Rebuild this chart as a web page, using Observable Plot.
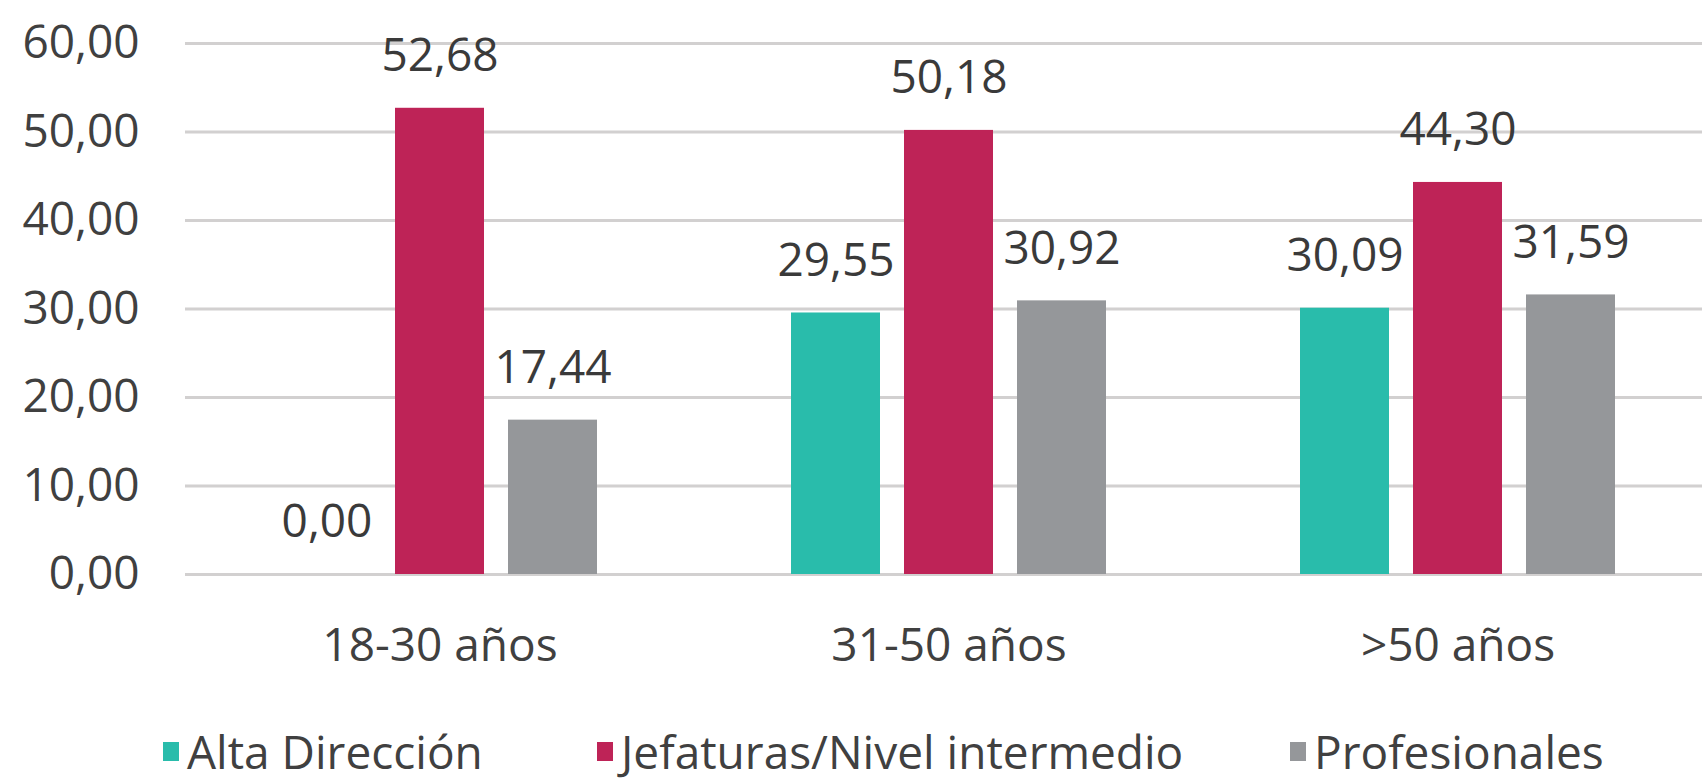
<!DOCTYPE html>
<html>
<head>
<meta charset="utf-8">
<script src="https://cdn.jsdelivr.net/npm/d3@7"></script>
<script src="https://cdn.jsdelivr.net/npm/@observablehq/plot@0.6"></script>
<style>
  html, body { margin: 0; padding: 0; background: #ffffff; }
  body { font-family: "Open Sans", sans-serif; color: #404040; width: 1702px; overflow: hidden; }
  #chart svg { overflow: visible; }
  #legend { position: relative; height: 93px; width: 1702px; font-size: 46px; }
  .item { position: absolute; top: 33px; display: flex; align-items: center; line-height: 56px; }
  .sw { width: 16px; height: 19px; margin-right: 8px; }
</style>
</head>
<body>
<div id="chart"></div>
<div id="legend"></div>
<script>
const groups = ["18-30 años", "31-50 años", ">50 años"];
const seriesNames = ["Alta Dirección", "Jefaturas/Nivel intermedio", "Profesionales"];
const altaDireccion = [0.00, 29.55, 30.09];
const jefaturas = [52.68, 50.18, 44.30];
const profesionales = [17.44, 30.92, 31.59];
const colors = ["#29bcab", "#be2357", "#95979a"];
const yTicks = [0, 10, 20, 30, 40, 50, 60];
const legendLeft = [163, 597, 1290];

const seriesValues = [altaDireccion, jefaturas, profesionales];
const data = [];
groups.forEach((g, gi) => {
  seriesNames.forEach((s, si) => {
    data.push({group: g, series: s, value: seriesValues[si][gi]});
  });
});
const fmt = v => v.toFixed(2).replace(".", ",");

const chart = Plot.plot({
  width: 1702,
  height: 690,
  marginLeft: 185,
  marginRight: -10,
  marginTop: 43,
  marginBottom: 116,
  style: {fontFamily: "'Open Sans', sans-serif", fontSize: "46px", color: "#404040", background: "#ffffff"},
  fx: {domain: groups, padding: 0, label: null},
  x: {domain: seriesNames, paddingInner: 0.21, paddingOuter: 0.84, axis: null},
  y: {domain: [0, 60], label: null},
  color: {domain: seriesNames, range: colors},
  marks: [
    Plot.ruleY(yTicks, {stroke: "#d2d0d0", strokeWidth: 3}),
    Plot.axisY({ticks: yTicks, tickFormat: fmt, tickSize: 0, tickPadding: 46, label: null, fill: "#404040"}),
    Plot.axisFx({anchor: "bottom", tickSize: 0, tickPadding: 54, label: null, fill: "#404040"}),
    Plot.barY(data, {fx: "group", x: "series", y: "value", fill: "series"}),
    Plot.text(data, {fx: "group", x: "series", y: "value", text: d => fmt(d.value), dy: -52, lineAnchor: "middle", fill: "#3a3a3a", fontSize: 46})
  ]
});
document.getElementById("chart").appendChild(chart);

const legend = document.getElementById("legend");
seriesNames.forEach((s, i) => {
  const item = document.createElement("div");
  item.className = "item";
  item.style.left = legendLeft[i] + "px";
  const sw = document.createElement("span");
  sw.className = "sw";
  sw.style.background = colors[i];
  const label = document.createElement("span");
  label.textContent = s;
  item.appendChild(sw);
  item.appendChild(label);
  legend.appendChild(item);
});
</script>
</body>
</html>
